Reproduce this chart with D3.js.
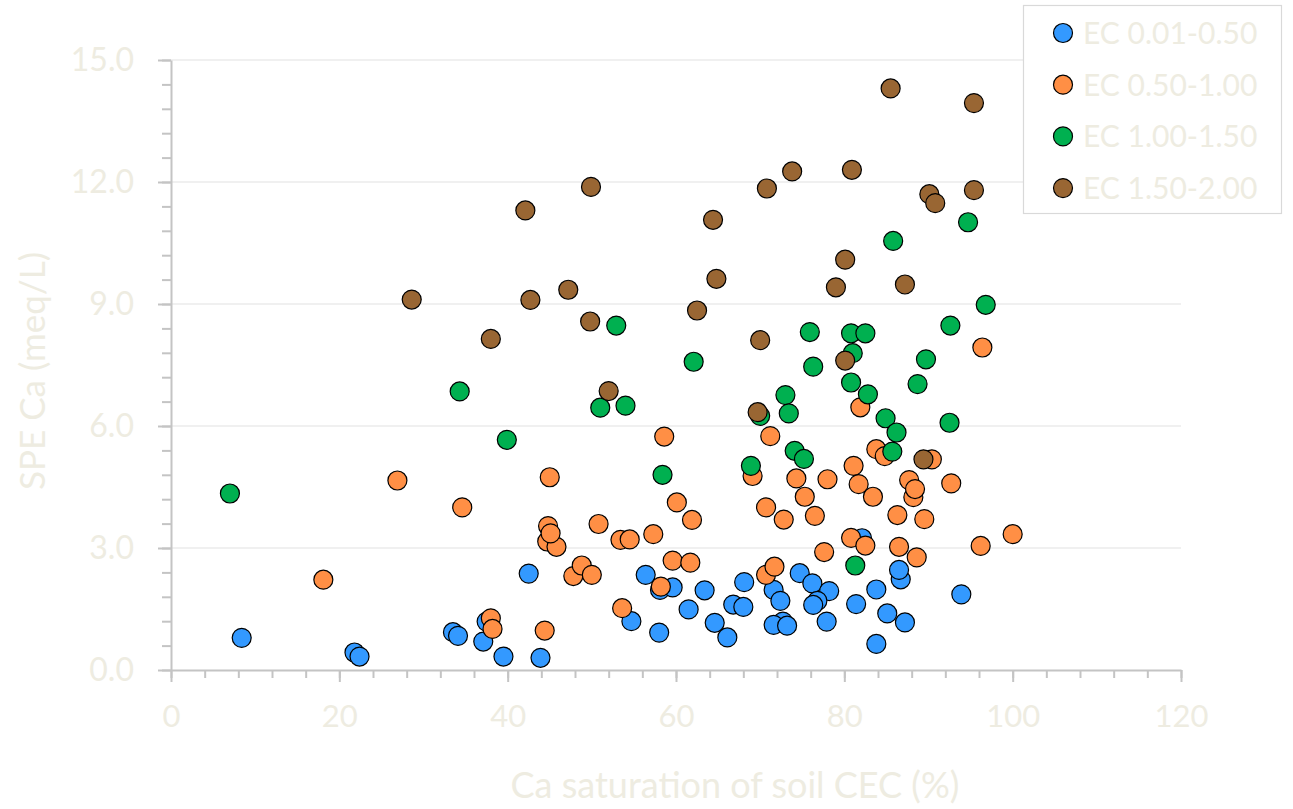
<!DOCTYPE html>
<html>
<head>
<meta charset="utf-8">
<style>
  body { margin: 0; background: #fff; }
  text { font-family: Lato, "Open Sans", sans-serif; fill: #eeece1; }
</style>
</head>
<body>
<script src="https://cdn.jsdelivr.net/npm/d3@7"></script>
<script>
// series names and colours
var seriesNames = ["EC 0.01-0.50", "EC 0.50-1.00", "EC 1.00-1.50", "EC 1.50-2.00"];
var seriesColors = ["#3399ff", "#ff8f45", "#00b050", "#996633"];

// [Ca saturation %, SPE Ca meq/L]
var ecLow = [
  [8.4,0.79],[21.8,0.43],[22.4,0.33],[33.5,0.93],[34.1,0.84],[37.1,0.70],[37.5,1.19],
  [39.5,0.33],[42.5,2.37],[43.9,0.30],[54.7,1.20],[56.4,2.34],[58.0,0.92],[58.1,1.97],
  [59.6,2.03],[61.5,1.49],[63.4,1.96],[64.6,1.16],[66.1,0.80],[66.8,1.61],[68.0,1.55],
  [68.1,2.16],[71.6,1.97],[72.4,1.70],[72.7,1.19],[71.6,1.11],[73.2,1.09],[74.7,2.38],
  [76.2,2.13],[78.2,1.94],[76.8,1.70],[76.3,1.60],[77.9,1.19],[81.4,1.62],[82.1,3.24],
  [83.8,1.98],[83.8,0.64],[85.1,1.39],[87.2,1.17],[86.7,2.23],[86.5,2.46],[93.9,1.86]
];
var ecMid = [
  [18.1,2.22],[26.9,4.66],[34.6,4.00],[38.0,1.27],[38.2,1.01],[44.4,0.97],[45.0,4.74],
  [44.8,3.54],[44.7,3.16],[45.8,3.03],[45.1,3.36],[47.8,2.31],[48.8,2.57],[50.0,2.34],
  [50.8,3.59],[53.4,3.20],[54.5,3.21],[53.6,1.52],[57.3,3.34],[58.6,5.74],[58.2,2.05],
  [59.6,2.69],[60.1,4.12],[61.9,3.69],[61.7,2.64],[69.1,4.77],[71.2,5.75],[70.7,4.00],
  [72.8,3.70],[74.3,4.71],[75.3,4.26],[76.5,3.79],[78.0,4.69],[77.6,2.90],[70.7,2.34],
  [71.7,2.54],[81.1,5.02],[81.7,4.57],[83.4,4.26],[80.8,3.25],[82.5,3.06],[81.9,6.46],
  [83.8,5.43],[84.8,5.26],[86.3,3.81],[87.7,4.67],[88.2,4.25],[88.4,4.45],[89.5,3.71],
  [90.4,5.18],[92.7,4.59],[96.4,7.93],[86.5,3.03],[88.6,2.77],[96.2,3.05],[100.0,3.34]
];
var ecHigh = [
  [7.0,4.34],[34.3,6.85],[39.9,5.66],[51.0,6.45],[52.9,8.47],[54.0,6.50],[58.4,4.80],
  [62.1,7.58],[68.9,5.02],[70.0,6.25],[73.0,6.76],[73.4,6.31],[74.1,5.39],[75.2,5.19],
  [75.9,8.31],[76.3,7.46],[80.8,8.28],[81.0,7.79],[80.8,7.07],[81.3,2.57],[82.5,8.28],
  [82.8,6.78],[84.9,6.19],[85.7,5.37],[85.8,10.55],[86.2,5.84],[88.7,7.03],[89.7,7.64],
  [92.5,6.08],[92.6,8.47],[94.7,11.01],[96.8,8.98]
];
var ecTop = [
  [28.6,9.11],[38.0,8.14],[42.1,11.30],[42.7,9.10],[47.2,9.35],[49.8,8.57],[49.9,11.88],
  [52.0,6.86],[62.5,8.84],[64.4,11.07],[64.8,9.62],[70.0,8.11],[69.7,6.34],[70.8,11.84],
  [73.8,12.26],[79.0,9.41],[80.1,10.09],[80.1,7.61],[80.9,12.30],[85.5,14.30],[87.2,9.48],
  [89.4,5.18],[90.1,11.70],[90.8,11.48],[95.4,13.94],[95.4,11.80]
];

var xTicks = [0, 20, 40, 60, 80, 100, 120];
var yTicks = [0, 3, 6, 9, 12, 15];

var width = 1293, height = 809;
var margin = {left: 171, right: 112, top: 60, bottom: 139};

var svg = d3.select("body").append("svg")
    .attr("width", width)
    .attr("height", height);

var x = d3.scaleLinear().domain([0, 120]).range([margin.left, width - margin.right]);
var y = d3.scaleLinear().domain([0, 15]).range([height - margin.bottom, margin.top]);

// gridlines
svg.append("g")
  .selectAll("line")
  .data(yTicks.slice(1))
  .join("line")
    .attr("x1", x(0)).attr("x2", x(120))
    .attr("y1", d => y(d)).attr("y2", d => y(d))
    .attr("stroke", "#f0f0f0")
    .attr("stroke-width", 2);

// minor ticks
var axisCol = "#c4c4c4";
svg.append("g")
  .attr("transform", "translate(0," + y(0) + ")")
  .call(d3.axisBottom(x).tickValues(d3.range(0, 121, 4)).tickSize(8).tickFormat(""))
  .call(g => g.select(".domain").remove())
  .call(g => g.selectAll("line").attr("stroke", axisCol).attr("stroke-width", 2));
svg.append("g")
  .attr("transform", "translate(" + x(0) + ",0)")
  .call(d3.axisLeft(y).tickValues(d3.range(0, 15.01, 0.6)).tickSize(9).tickFormat(""))
  .call(g => g.select(".domain").remove())
  .call(g => g.selectAll("line").attr("stroke", axisCol).attr("stroke-width", 2));

// major ticks + labels
svg.append("g")
  .attr("transform", "translate(0," + y(0) + ")")
  .call(d3.axisBottom(x).tickValues(xTicks).tickSize(12).tickPadding(23).tickSizeOuter(0))
  .call(g => g.select(".domain").attr("stroke", axisCol).attr("stroke-width", 2))
  .call(g => g.selectAll("line").attr("stroke", axisCol).attr("stroke-width", 2))
  .call(g => g.selectAll("text").attr("font-size", 31).attr("font-family", "Lato").attr("fill", "#eeece1"));
svg.append("g")
  .attr("transform", "translate(" + x(0) + ",0)")
  .call(d3.axisLeft(y).tickValues(yTicks).tickSize(13).tickPadding(24).tickSizeOuter(0).tickFormat(d3.format(".1f")))
  .call(g => g.select(".domain").attr("stroke", axisCol).attr("stroke-width", 2))
  .call(g => g.selectAll("line").attr("stroke", axisCol).attr("stroke-width", 2))
  .call(g => g.selectAll("text").attr("font-size", 32).attr("font-family", "Lato").attr("fill", "#eeece1"));

// axis titles
svg.append("text")
  .attr("x", 735).attr("y", 798)
  .attr("text-anchor", "middle")
  .attr("font-size", 36)
  .text("Ca saturation of soil CEC (%)");
svg.append("text")
  .attr("transform", "translate(45,371) rotate(-90)")
  .attr("text-anchor", "middle")
  .attr("font-size", 35)
  .text("SPE Ca (meq/L)");

// points, one group per series
var allSeries = [ecLow, ecMid, ecHigh, ecTop];
allSeries.forEach(function(pts, i) {
  svg.append("g")
    .selectAll("circle")
    .data(pts)
    .join("circle")
      .attr("cx", d => x(d[0]))
      .attr("cy", d => y(d[1]))
      .attr("r", 9.5)
      .attr("fill", seriesColors[i])
      .attr("stroke", "#000")
      .attr("stroke-width", 1.2);
});

// legend
var legend = svg.append("g");
legend.append("rect")
  .attr("x", 1023.5).attr("y", 5.5)
  .attr("width", 258).attr("height", 208)
  .attr("fill", "#fff")
  .attr("stroke", "#d9d9d9")
  .attr("stroke-width", 1.2);
var items = legend.selectAll("g.item")
  .data(seriesNames)
  .join("g")
    .attr("class", "item")
    .attr("transform", (d, i) => "translate(1063," + (33 + i * 51.7) + ")");
items.append("circle")
  .attr("r", 9.5)
  .attr("fill", (d, i) => seriesColors[i])
  .attr("stroke", "#000")
  .attr("stroke-width", 1.2);
items.append("text")
  .attr("x", 20).attr("y", 11)
  .attr("font-size", 30)
  .text(d => d);
</script>
</body>
</html>
